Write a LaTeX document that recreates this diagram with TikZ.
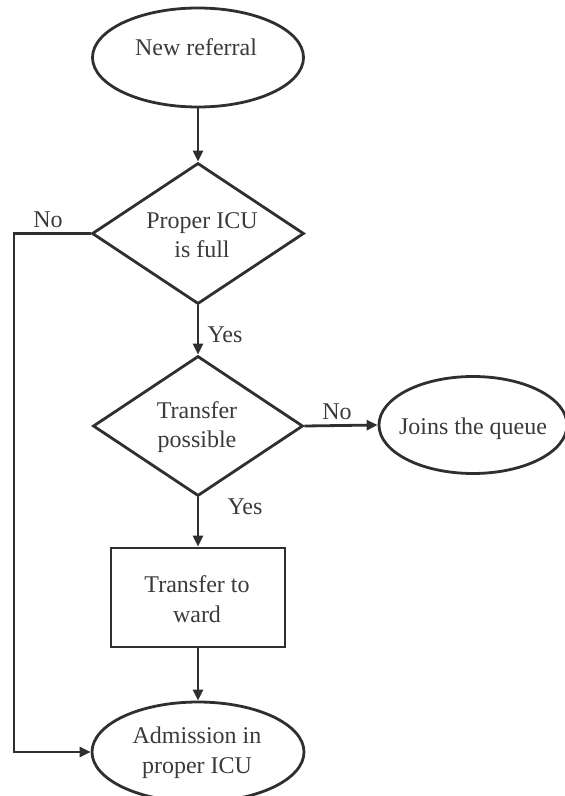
\documentclass[tikz,border=0pt]{standalone}
\usepackage{fontspec}
\setmainfont{Liberation Serif}
\usetikzlibrary{shapes.geometric,arrows.meta}
\definecolor{ink}{HTML}{2F2F2F}
\definecolor{txt}{HTML}{3A3A3A}
\begin{document}
\begin{tikzpicture}[x=0.5pt,y=-0.5pt,
  every node/.style={font=\fontsize{12pt}{14.8pt}\selectfont, text=txt, align=center, inner sep=0pt},
  shape line/.style={draw=ink, line width=1.4pt},
  terminal/.style={shape line, ellipse},
  decision/.style={shape line, diamond},
  process/.style={shape line, rectangle},
  flow/.style={draw=ink, line width=1.4pt, -{Triangle[length=5.5pt,width=5pt]}}]
  \useasboundingbox (0,0) rectangle (564,796);

  % outlines: start / end ellipses, decisions, action box
  \node[terminal, minimum width=105.5pt, minimum height=49.5pt] (ref) at (198,57.5) {};
  \node[decision, minimum width=106pt, minimum height=70.5pt] (full) at (198,233.5) {};
  \node[decision, minimum width=105pt, minimum height=70pt] (possible) at (198,426) {};
  \node[terminal, minimum width=94pt, minimum height=48.5pt] (queue) at (473,425) {};
  \node[process, minimum width=87pt, minimum height=49.5pt] (ward) at (198,597.5) {};
  \node[terminal, minimum width=106pt, minimum height=50pt] (adm) at (198,752) {};

  % texts inside the shapes
  \node (reftext) at (196,47) {New referral};
  \node (fulltext) at (202,235) {Proper ICU\\is full};
  \node (possibletext) at (197,427) {Transfer\\possible};
  \node (queuetext) at (473,429) {Joins the queue};
  \node (wardtext) at (197,599) {Transfer to\\ward};
  \node (admtext) at (197,753) {Admission in\\proper ICU};

  % connectors
  \coordinate (corner) at (14,233.5);
  \draw[flow] (ref) -- (full);
  \draw[flow] (full) -- (possible);
  \draw[flow] (possible) -- (ward);
  \draw[flow] (ward) -- (adm);
  \draw[flow] (possible.east) -- (queue.west);
  \draw[flow] (full.west) -- (corner) |- (adm.west);

  % branch labels
  \node (no1) at (48,220) {No};
  \node (yes1) at (225,335) {Yes};
  \node (no2) at (337,412) {No};
  \node (yes2) at (245,507) {Yes};
\end{tikzpicture}
\end{document}
